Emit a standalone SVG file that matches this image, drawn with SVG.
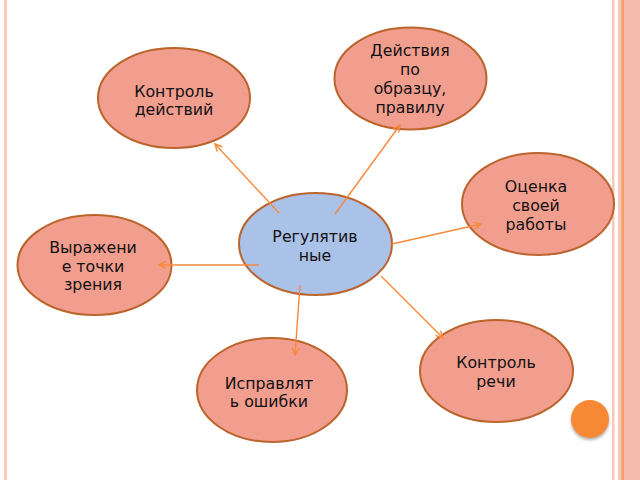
<svg xmlns="http://www.w3.org/2000/svg" width="640" height="480" viewBox="0 0 640 480">
<style>
.node ellipse{fill:#F29E8F;stroke:#BB642C;stroke-width:2}
.node.center ellipse{fill:#AAC1E8}
.node text{font-family:"DejaVu Sans","Verdana",sans-serif;font-size:15.8px;fill:#111;text-anchor:middle}
#connectors line{stroke:#F7893A;stroke-width:1.4;fill:none}
</style>
<defs>
<marker id="arr" markerWidth="10" markerHeight="10" refX="8" refY="4" orient="auto" markerUnits="userSpaceOnUse">
<path d="M1,0.5 L8,4 L1,7.5" fill="none" stroke="#F7893A" stroke-width="1.4"/>
</marker>
<filter id="sh" x="-50%" y="-50%" width="200%" height="200%">
<feDropShadow dx="0" dy="2" stdDeviation="1.5" flood-color="#777" flood-opacity="0.6"/>
</filter>
</defs>
<rect width="640" height="480" fill="#fff"/>
<g id="frame">
<rect x="4" y="0" width="3" height="480" fill="#FDCBBC"/>
<rect x="612" y="0" width="2.5" height="480" fill="#FBC6B3"/>
<rect x="618" y="0" width="22" height="480" fill="#F4BDAB"/>
<rect x="618" y="0" width="3" height="480" fill="#F8C9B8"/>
<rect x="621.5" y="0" width="2.5" height="480" fill="#F79D68"/>
</g>
<g id="n-kontrol-deistviy" class="node"><ellipse cx="174" cy="98" rx="76" ry="50"/><text x="174" y="97">Контроль</text><text x="174" y="115">действий</text></g>
<g id="n-deistviya" class="node"><ellipse cx="410.5" cy="78.5" rx="76" ry="51"/><text x="410" y="56">Действия</text><text x="410" y="75">по</text><text x="410" y="94">образцу,</text><text x="410" y="113">правилу</text></g>
<g id="n-otsenka" class="node"><ellipse cx="538" cy="204" rx="76" ry="51"/><text x="536" y="192">Оценка</text><text x="536" y="211">своей</text><text x="536" y="230">работы</text></g>
<g id="n-regulyativnye" class="node center"><ellipse cx="315.5" cy="244" rx="76.5" ry="51"/><text x="315" y="242">Регулятив</text><text x="315" y="261">ные</text></g>
<g id="n-vyrazhenie" class="node"><ellipse cx="94.5" cy="265" rx="77" ry="50"/><text x="93" y="253">Выражени</text><text x="93" y="272">е точки</text><text x="93" y="290">зрения</text></g>
<g id="n-kontrol-rechi" class="node"><ellipse cx="496.5" cy="371" rx="76.5" ry="51"/><text x="496" y="368">Контроль</text><text x="496" y="387">речи</text></g>
<g id="n-ispravlyat" class="node"><ellipse cx="272" cy="390" rx="75" ry="52"/><text x="269" y="389">Исправлят</text><text x="269" y="407">ь ошибки</text></g>
<g id="connectors">
<line x1="279" y1="213" x2="215" y2="144" marker-end="url(#arr)"/>
<line x1="335" y1="214" x2="400" y2="125" marker-end="url(#arr)"/>
<line x1="392" y1="244" x2="481" y2="224" marker-end="url(#arr)"/>
<line x1="259" y1="265" x2="159" y2="265" marker-end="url(#arr)"/>
<line x1="300" y1="285" x2="295" y2="355" marker-end="url(#arr)"/>
<line x1="381" y1="276" x2="443" y2="338" marker-end="url(#arr)"/>
</g>
<circle cx="590" cy="419" r="19" fill="#F78935" filter="url(#sh)"/>
</svg>
